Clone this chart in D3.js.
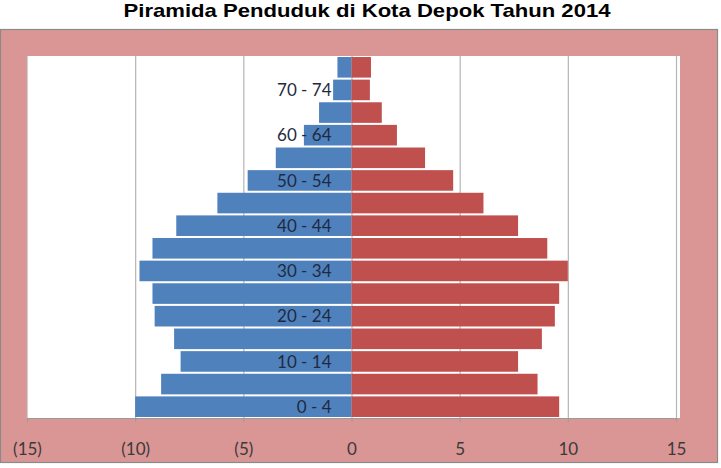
<!DOCTYPE html>
<html>
<head>
<meta charset="utf-8">
<script src="https://cdn.jsdelivr.net/npm/d3@7"></script>
<style>
  body { margin: 0; background: #fff; }
  .tick text { font-family: Lato, "Open Sans", sans-serif; }
</style>
</head>
<body>
<div id="pyramid"></div>
<script>
// age groups, from the bottom bar to the top one
var ageGroups = ["0 - 4", "5 - 9", "10 - 14", "15 - 19", "20 - 24", "25 - 29", "30 - 34", "35 - 39",
                 "40 - 44", "45 - 49", "50 - 54", "55 - 59", "60 - 64", "65 - 69", "70 - 74", "75+"];
// percentage of population (male drawn to the left)
var maleValues   = [10.0, 8.8, 7.9, 8.2, 9.1, 9.2, 9.8, 9.2, 8.1, 6.2, 4.8, 3.5, 2.2, 1.5, 0.85, 0.65];
var femaleValues = [9.6, 8.6, 7.7, 8.8, 9.4, 9.6, 10.0, 9.05, 7.7, 6.1, 4.7, 3.4, 2.1, 1.4, 0.85, 0.9];
// only every other age group gets a label
var shownLabels = ["0 - 4", "10 - 14", "20 - 24", "30 - 34", "40 - 44", "50 - 54", "60 - 64", "70 - 74"];
var tickValues = [-15, -10, -5, 0, 5, 10, 15];
var tickLabels = ["(15)", "(10)", "(5)", "0", "5", "10", "15"];
var title = "Piramida Penduduk di Kota Depok Tahun 2014";

var W = 721, H = 468;
var margin = {top: 56, right: 43, bottom: 50, left: 27},
    width = W - margin.left - margin.right,
    height = H - margin.top - margin.bottom;

var svg = d3.select("#pyramid")
  .append("svg")
  .attr("width", W)
  .attr("height", H);

// title
svg.append("text")
  .attr("x", 367)
  .attr("y", 17)
  .attr("text-anchor", "middle")
  .attr("textLength", 487)
  .attr("lengthAdjust", "spacingAndGlyphs")
  .style("font-family", "'Liberation Sans', Arial, sans-serif")
  .style("font-weight", "bold")
  .style("font-size", "19px")
  .style("fill", "#000")
  .text(title);

// pink chart frame
svg.append("rect")
  .attr("x", 0.5).attr("y", 29.5)
  .attr("width", 717).attr("height", 433)
  .style("fill", "#D99694")
  .style("stroke", "#8a8a8a")
  .style("stroke-width", 1.2);

var g = svg.append("g")
  .attr("transform", "translate(" + margin.left + "," + margin.top + ")");

// white plot area
g.append("rect")
  .attr("x", 0).attr("y", 0)
  .attr("width", width + 2).attr("height", height)
  .style("fill", "#fff");

var x = d3.scaleLinear()
  .domain([-15, 15])
  .range([0, width - 2]);

var y = d3.scaleBand()
  .domain(ageGroups.slice().reverse())
  .range([0, height])
  .paddingInner(0.09)
  .paddingOuter(0.045);

// vertical gridlines
g.selectAll(".grid")
  .data(tickValues)
  .enter()
  .append("line")
  .attr("class", "grid")
  .attr("x1", function(d) { return x(d) + 0.5; })
  .attr("x2", function(d) { return x(d) + 0.5; })
  .attr("y1", 0)
  .attr("y2", height)
  .style("stroke", function(d) { return d == -15 ? "#d0d0d0" : "#b5b5b5"; })
  .style("stroke-width", 1.2);

// male bars
g.selectAll(".male")
  .data(maleValues)
  .enter()
  .append("rect")
  .attr("class", "male")
  .attr("x", function(d) { return x(-d); })
  .attr("y", function(d, i) { return y(ageGroups[i]); })
  .attr("width", function(d) { return x(0) - x(-d); })
  .attr("height", y.bandwidth())
  .style("fill", "#4F81BD");

// female bars
g.selectAll(".female")
  .data(femaleValues)
  .enter()
  .append("rect")
  .attr("class", "female")
  .attr("x", x(0))
  .attr("y", function(d, i) { return y(ageGroups[i]); })
  .attr("width", function(d) { return x(d) - x(0); })
  .attr("height", y.bandwidth())
  .style("fill", "#C0504D");

// age labels
g.selectAll(".ageLabel")
  .data(shownLabels)
  .enter()
  .append("text")
  .attr("class", "ageLabel")
  .attr("x", x(0) - 20)
  .attr("y", function(d) { return y(d) + y.bandwidth() / 2; })
  .attr("dy", "0.36em")
  .attr("text-anchor", "end")
  .style("font-family", "Lato, 'Open Sans', sans-serif")
  .style("font-size", "17px")
  .style("fill", "#1f2a40")
  .text(function(d) { return d; });

// bottom axis
var xAxis = g.append("g")
  .attr("transform", "translate(0," + height + ")")
  .call(d3.axisBottom(x)
    .tickValues(tickValues)
    .tickSize(4)
    .tickFormat(function(d, i) { return tickLabels[i]; }));

xAxis.select(".domain").style("stroke", "#9a9a9a");
xAxis.selectAll(".tick line").style("stroke", "#9a9a9a");
xAxis.selectAll(".tick text")
  .attr("y", 25)
  .style("font-size", "17px")
  .style("fill", "#3a3a3a");
</script>
</body>
</html>
